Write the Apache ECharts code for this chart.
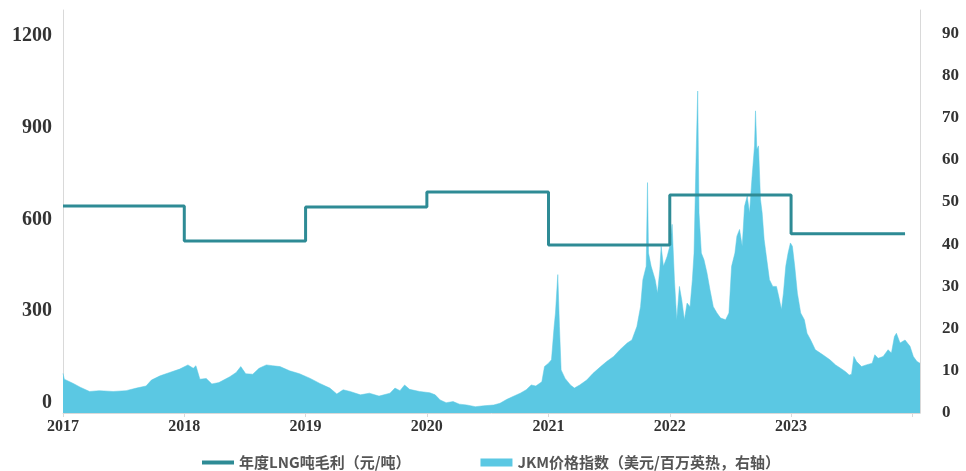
<!DOCTYPE html>
<html><head><meta charset="utf-8">
<script src="https://cdn.jsdelivr.net/npm/echarts@6/dist/echarts.min.js"></script>
<style>html,body{margin:0;padding:0;background:#fff}#c{width:966px;height:471px}</style>
</head><body><div id="c"></div>
<script>
// Annual LNG gross margin per ton (yuan/ton), left axis
const marginDates = ['2017-01-01','2018-01-01','2019-01-01','2020-01-01','2021-01-01','2022-01-01','2023-01-01','2023-12-10'];
const marginValues = [644, 530, 641, 690, 517, 680, 553, 553];

// JKM price index (USD/MMBtu), right axis
const jkmDates = [
'2017-01-01','2017-01-05','2017-02-01','2017-02-22','2017-03-22','2017-04-20','2017-06-01','2017-07-10','2017-08-10','2017-09-08','2017-09-24','2017-10-20','2017-11-18','2017-12-18',
'2018-01-12','2018-01-28','2018-02-05','2018-02-17','2018-03-08','2018-03-25','2018-04-15','2018-05-18','2018-06-06','2018-06-20','2018-07-05','2018-07-26','2018-08-14','2018-09-05','2018-09-24','2018-10-16','2018-11-14','2018-12-14',
'2019-01-15','2019-02-13','2019-03-15','2019-04-05','2019-04-24','2019-05-15','2019-06-15','2019-07-12','2019-08-10','2019-09-12','2019-09-27','2019-10-12','2019-10-26','2019-11-10','2019-12-10',
'2020-01-10','2020-01-26','2020-02-10','2020-02-28','2020-03-20','2020-04-08','2020-04-30','2020-05-26','2020-06-20','2020-07-20','2020-08-08','2020-08-29','2020-09-16','2020-10-08','2020-10-26','2020-11-10','2020-11-24','2020-12-12','2020-12-20',
'2021-01-01','2021-01-10','2021-01-18','2021-01-22','2021-01-29','2021-02-03','2021-02-08','2021-02-20','2021-03-08','2021-03-20','2021-04-05','2021-04-26','2021-05-15','2021-06-07','2021-06-25','2021-07-16','2021-08-04','2021-08-26','2021-09-09','2021-09-24','2021-10-05','2021-10-12','2021-10-22','2021-10-26','2021-10-29','2021-11-06','2021-11-18','2021-11-25','2021-12-02','2021-12-06','2021-12-13','2021-12-24',
'2022-01-01','2022-01-08','2022-01-15','2022-01-22','2022-01-30','2022-02-06','2022-02-14','2022-02-22','2022-03-03','2022-03-10','2022-03-15','2022-03-21','2022-03-26','2022-03-30','2022-04-06','2022-04-14','2022-04-23','2022-05-02','2022-05-12','2022-05-23','2022-06-03','2022-06-18','2022-06-28','2022-07-06','2022-07-16','2022-07-22','2022-07-30','2022-08-07','2022-08-14','2022-08-22','2022-08-29','2022-09-05','2022-09-09','2022-09-13','2022-09-16','2022-09-20','2022-09-25','2022-10-01','2022-10-06','2022-10-12','2022-10-16','2022-10-20','2022-10-28','2022-11-07','2022-11-18','2022-11-25','2022-12-03','2022-12-09','2022-12-16','2022-12-23','2022-12-30',
'2023-01-05','2023-01-12','2023-01-20','2023-01-30','2023-02-10','2023-02-18','2023-03-01','2023-03-15','2023-03-30','2023-04-14','2023-04-28','2023-05-15','2023-05-30','2023-06-14','2023-06-25','2023-07-02','2023-07-09','2023-07-17','2023-08-01','2023-08-15','2023-09-02','2023-09-10','2023-09-20','2023-10-05','2023-10-20','2023-10-30','2023-11-08','2023-11-14','2023-11-25','2023-12-10','2023-12-25',
'2024-01-04','2024-01-15','2024-01-24'];
const jkmValues = [
9.4,8.0,7.0,6.1,5.1,5.3,5.1,5.3,5.9,6.4,7.8,8.8,9.6,10.4,
11.4,10.6,11.2,8.0,8.2,6.9,7.2,8.6,9.6,11.0,9.3,9.2,10.6,11.4,11.2,11.0,10.0,9.3,
8.2,7.0,5.9,4.5,5.5,5.1,4.3,4.7,4.0,4.7,5.9,5.3,6.65,5.6,5.1,
4.8,4.3,3.1,2.45,2.7,2.1,1.9,1.5,1.7,1.9,2.3,3.25,3.9,4.7,5.5,6.65,6.4,7.4,11.0,
11.8,12.6,20.5,23.7,32.8,20.5,10.2,8.2,6.65,5.9,6.65,7.8,9.4,11.0,12.2,13.4,15.0,16.6,17.3,20.5,25.2,31.6,34.75,54.6,37.9,34.75,31.6,28.4,34.0,39.5,34.75,37.1,
39.5,44.7,31.6,22.1,30.0,26.8,22.1,26.05,25.2,31.6,37.9,60.1,76.3,47.4,37.9,36.3,33.2,29.2,25.2,23.7,22.5,22.1,23.7,34.75,37.9,41.9,43.5,39.5,49.0,51.4,47.4,55.3,59.3,63.3,71.6,62.5,63.3,50.6,47.4,41.1,38.7,36.3,31.6,30.0,30.0,27.6,24.5,28.4,34.75,37.9,40.3,
39.5,34.75,28.4,23.7,22.1,18.9,17.3,15.0,14.2,13.4,12.6,11.4,10.6,9.8,9.0,9.2,13.4,12.2,11.0,11.4,11.8,13.8,12.95,13.4,15.0,14.2,18.1,18.9,16.6,17.3,15.8,
13.4,12.2,11.8];

const leftTicks = [0, 300, 600, 900, 1200];
const rightTicks = [0,10,20,30,40,50,60,70,80,90];
const yearLabels = ['2017','2018','2019','2020','2021','2022','2023'];

const X_MIN = '2017-01-01', X_MAX = '2024-01-24';
const serif = '"Liberation Serif","Times New Roman",serif';
const cjk = '"Noto Sans CJK SC","Noto Sans",sans-serif';
const axisGray = '#d9d9d9';
const lineColor = '#2e8b95';
const areaColor = '#5bc8e3';

const chart = echarts.init(document.getElementById('c'), null, {renderer:'canvas'});
chart.setOption({
  animation: false,
  backgroundColor: '#fff',
  grid: [
    {left: 63, right: 46, top: 10, bottom: 58},
    {left: 63, right: 46, top: 36, bottom: 68}
  ],
  legend: {
    left: 197, top: 450, itemGap: 70, itemWidth: 32, itemHeight: 8,
    textStyle: {fontFamily: cjk, fontSize: 15, fontWeight: 'bold', color: '#555'},
    data: [
      {name: '年度LNG吨毛利（元/吨）', icon: 'path://M0,0 L32,0 L32,4 L0,4 Z', itemStyle: {color: lineColor}},
      {name: 'JKM价格指数（美元/百万英热，右轴）', icon: 'rect', itemStyle: {color: areaColor}}
    ]
  },
  xAxis: [
    {
      type: 'time', gridIndex: 0, min: X_MIN, max: X_MAX,
      minInterval: 365*86400000, maxInterval: 366*86400000,
      axisLine: {show: true, lineStyle: {color: axisGray, width: 1}},
      axisTick: {show: true, length: 4, lineStyle: {color: axisGray}},
      splitLine: {show: false},
      axisLabel: {
        showMaxLabel: false, margin: 6,
        fontFamily: serif, fontSize: 16, fontWeight: 'bold', color: '#333',
        formatter: function (v) { const y = String(new Date(v).getFullYear()); return yearLabels.indexOf(y) >= 0 ? y : ''; }
      }
    },
    {type: 'time', gridIndex: 1, min: X_MIN, max: X_MAX, show: false}
  ],
  yAxis: [
    { // right axis for JKM
      type: 'value', gridIndex: 0, position: 'right', min: 0, max: 95.5, interval: 10,
      axisLine: {show: true, lineStyle: {color: axisGray}},
      axisTick: {show: false}, splitLine: {show: false},
      axisLabel: {showMaxLabel: false, margin: 22, fontFamily: serif, fontSize: 17, fontWeight: 'bold', color: '#333',
        formatter: function (v) { return rightTicks.indexOf(v) >= 0 ? String(v) : ''; }}
    },
    { // left axis line only
      type: 'value', gridIndex: 0, position: 'left', min: 0, max: 1,
      axisLine: {show: true, lineStyle: {color: axisGray}},
      axisTick: {show: false}, splitLine: {show: false}, axisLabel: {show: false}
    },
    { // left axis labels for margin
      type: 'value', gridIndex: 1, position: 'left', min: 0, max: 1200, interval: 300,
      axisLine: {show: false}, axisTick: {show: false}, splitLine: {show: false},
      axisLabel: {margin: 11, fontFamily: serif, fontSize: 20, fontWeight: 'bold', color: '#333',
        formatter: function (v) { return leftTicks.indexOf(v) >= 0 ? String(v) : ''; }}
    }
  ],
  series: [
    {
      name: 'JKM价格指数（美元/百万英热，右轴）', type: 'line',
      xAxisIndex: 0, yAxisIndex: 0,
      data: jkmDates.map((d, i) => [d, jkmValues[i]]),
      symbol: 'none', lineStyle: {width: 0.5, color: areaColor},
      itemStyle: {color: areaColor},
      areaStyle: {color: areaColor, opacity: 1}
    },
    {
      name: '年度LNG吨毛利（元/吨）', type: 'line', step: 'end',
      xAxisIndex: 1, yAxisIndex: 2,
      data: marginDates.map((d, i) => [d, marginValues[i]]),
      symbol: 'none', lineStyle: {width: 3, color: lineColor},
      itemStyle: {color: lineColor}, z: 5
    }
  ]
});
</script></body></html>
